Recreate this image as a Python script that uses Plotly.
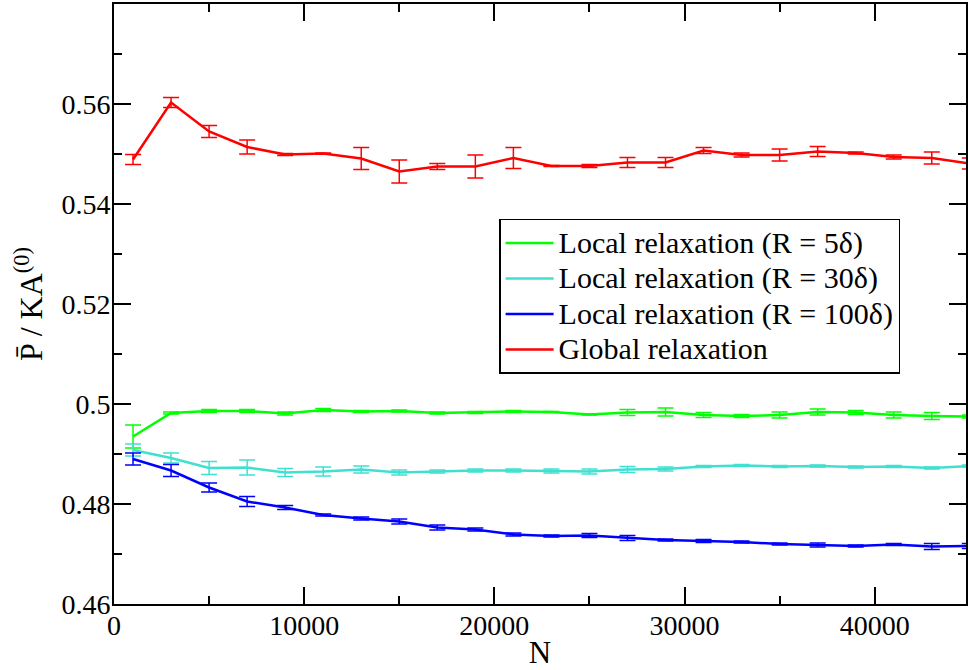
import plotly.graph_objects as go

# System size N at which each average was taken
N = [1000, 3000, 5000, 7000, 9000, 11000, 13000, 15000, 17000, 19000, 21000, 23000,
     25000, 27000, 29000, 31000, 33000, 35000, 37000, 39000, 41000, 43000, 45000]

# Mean pressure P/KA^(0) and its error for each relaxation scheme
local_5 = [0.4935, 0.4982, 0.4986, 0.4986, 0.4981, 0.4988, 0.4985, 0.4986, 0.4982, 0.4983, 0.4985, 0.4984,
           0.4979, 0.4983, 0.4984, 0.4978, 0.4976, 0.4978, 0.4984, 0.4983, 0.4978, 0.4976, 0.4975]
local_5_err = [0.0023, 0.0002, 0.0003, 0.0003, 0.0003, 0.0003, 0.0002, 0.0002, 0.0002, 0.0002, 0.0002, 0.0001,
               0.0001, 0.0006, 0.0008, 0.0005, 0.0003, 0.0006, 0.0006, 0.0004, 0.0006, 0.0007, 0.0003]

local_30 = [0.4908, 0.4892, 0.4872, 0.4873, 0.4863, 0.4865, 0.4869, 0.4863, 0.4865, 0.4867, 0.4867, 0.4866,
            0.4865, 0.4869, 0.4870, 0.4875, 0.4877, 0.4875, 0.4876, 0.4874, 0.4875, 0.4872, 0.4876]
local_30_err = [0.0012, 0.0010, 0.0013, 0.0015, 0.0008, 0.0009, 0.0007, 0.0005, 0.0003, 0.0003, 0.0003, 0.0004,
                0.0005, 0.0006, 0.0004, 0.0002, 0.0002, 0.0002, 0.0002, 0.0002, 0.0002, 0.0002, 0.0002]

local_100 = [0.4890, 0.4867, 0.4833, 0.4805, 0.4793, 0.4778, 0.4771, 0.4765, 0.4753, 0.4749, 0.4739, 0.4736,
             0.4737, 0.4732, 0.4728, 0.4726, 0.4724, 0.4720, 0.4718, 0.4716, 0.4719, 0.4715, 0.4716]
local_100_err = [0.0012, 0.0012, 0.0009, 0.0010, 0.0004, 0.0002, 0.0003, 0.0005, 0.0005, 0.0003, 0.0003, 0.0002,
                 0.0004, 0.0005, 0.0002, 0.0003, 0.0002, 0.0002, 0.0004, 0.0002, 0.0002, 0.0006, 0.0005]

global_relax = [0.5489, 0.5603, 0.5545, 0.5514, 0.5499, 0.5501, 0.5491, 0.5465, 0.5475, 0.5475, 0.5492, 0.5476,
                0.5476, 0.5483, 0.5483, 0.5507, 0.5498, 0.5498, 0.5505, 0.5502, 0.5494, 0.5492, 0.5481]
global_err = [0.0010, 0.0010, 0.0012, 0.0014, 0.0002, 0.0001, 0.0022, 0.0023, 0.0006, 0.0023, 0.0021, 0.0001,
              0.0003, 0.0010, 0.0010, 0.0006, 0.0004, 0.0012, 0.0010, 0.0002, 0.0004, 0.0012, 0.0011]

series_names = ["Local relaxation (R = 5δ)", "Local relaxation (R = 30δ)",
                "Local relaxation (R = 100δ)", "Global relaxation"]
series_colors = ["#00ff00", "#40e0d0", "#0000ff", "#ff0000"]

x_tickvals = [0, 10000, 20000, 30000, 40000]
x_ticktext = ["0", "10000", "20000", "30000", "40000"]
y_tickvals = [0.46, 0.48, 0.50, 0.52, 0.54, 0.56]
y_ticktext = ["0.46", "0.48", "0.5", "0.52", "0.54", "0.56"]

FONT = "Liberation Serif"

fig = go.Figure()
for name, color, ys, errs in zip(series_names, series_colors,
                                 [local_5, local_30, local_100, global_relax],
                                 [local_5_err, local_30_err, local_100_err, global_err]):
    fig.add_trace(go.Scatter(
        x=N, y=ys, mode="lines",
        # legend rows stay compact while the label itself is set a little larger
        name=f'<span style="font-size:30px">{name}</span>',
        line=dict(color=color, width=2.5),
        error_y=dict(type="data", array=errs, visible=True,
                     color=color, thickness=1.5, width=8),
    ))

axis_common = dict(showgrid=False, zeroline=False, showline=True, linecolor="black",
                   linewidth=2, ticks="inside", ticklen=17, tickwidth=1.5, tickcolor="black",
                   tickfont=dict(family=FONT, size=28, color="black"))

fig.update_layout(
    width=968, height=670,
    margin=dict(l=114, r=0, t=4, b=66),
    paper_bgcolor="white", plot_bgcolor="white",
    font=dict(family=FONT, color="black"),
    xaxis=dict(range=[0, 44800], tickvals=x_tickvals, ticktext=x_ticktext, mirror="ticks",
               ticklabelstandoff=-5,
               minor=dict(dtick=5000, ticks="inside", ticklen=8, tickwidth=1.5, tickcolor="black"),
               title=dict(text="N", font=dict(family=FONT, size=31), standoff=5),
               **axis_common),
    yaxis=dict(range=[0.46, 0.58], tickvals=y_tickvals, ticktext=y_ticktext, mirror="ticks",
               ticklabelstandoff=-4,
               minor=dict(dtick=0.01, ticks="inside", ticklen=8, tickwidth=1.5, tickcolor="black"),
               title=dict(text="P\u0304 / KA<sup>(0)</sup>", font=dict(family=FONT, size=32), standoff=9),
               **axis_common),
    legend=dict(x=0.452, y=0.642, xanchor="left", yanchor="top",
                bgcolor="white", bordercolor="black", borderwidth=1.5,
                font=dict(family=FONT, size=25, color="black"),
                tracegroupgap=0, itemwidth=48),
    showlegend=True,
)

fig.write_html("out.html")
